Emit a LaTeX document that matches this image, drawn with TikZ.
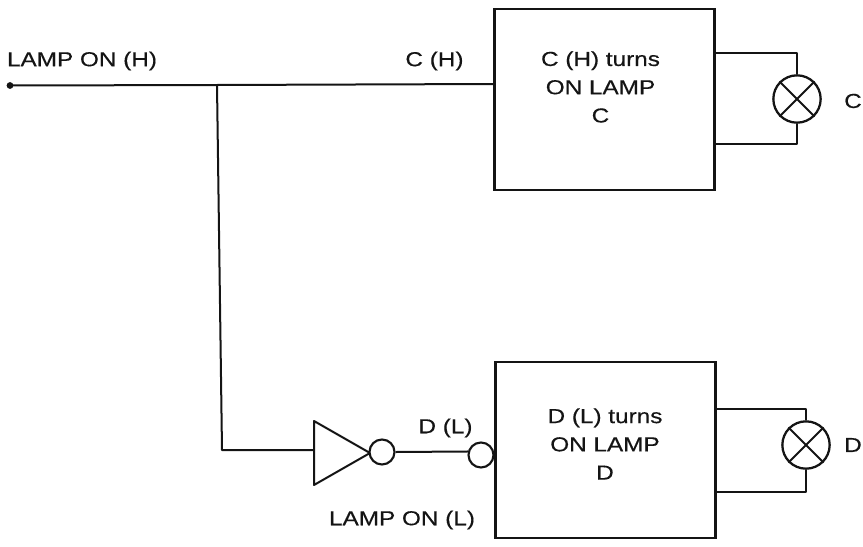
\documentclass[tikz,border=0pt]{standalone}
\usepackage{fontspec}
\setmainfont[FakeStretch=1.2,FakeBold=0.4]{Liberation Sans}
\definecolor{ink}{gray}{0.08}
\tikzset{
  ln/.style={line width=1.5pt,ink,line join=round},
  blk/.style={draw=ink,line width=1.7pt,fill=white,inner sep=0pt,minimum width=165pt},
  lab/.style={font=\fontsize{15.2}{21.2}\selectfont,text=ink,align=center,inner sep=0pt},
  bub/.style={circle,draw=ink,line width=1.6pt,fill=white,inner sep=0pt,minimum size=18.75pt},
  lamp/.style={circle,draw=ink,line width=1.7pt,inner sep=0pt,minimum size=35.5pt},
}
\begin{document}
\begin{tikzpicture}[x=0.75pt,y=-0.75pt]
\useasboundingbox (0,0) rectangle (863,546);
% boxes
\node[blk,minimum height=135.75pt] (boxc) at (604.5,99.5) {};
\node[blk,minimum height=132pt] (boxd) at (605.5,450) {};
\node[lab] (tc) at (600.5,87) {C (H) turns\\ON LAMP\\C};
\node[lab] (td) at (605,444) {D (L) turns\\ON LAMP\\D};
% input
\coordinate (st) at (10,85.5);
\fill[ink] (st) circle (3.4);
\coordinate (jn) at (217,85);
\coordinate (cin) at (boxc.west |- 0,84);
\draw[ln] (st) -- (jn) -- (cin);
% inverter
\coordinate (g1) at (314,421);
\coordinate (g2) at (314,485);
\coordinate (g3) at (370,453);
\coordinate (gin) at (314,450);
\coordinate (gb) at (222,450);
\draw[ln] (jn) -- (gb) -- (gin);
\draw[ln,fill=white] (g1) -- (g2) -- (g3) -- cycle;
\node[bub] (b1) at (382,452) {};
\node[bub] (b2) at (481,455) {};
\draw[ln] (b1.east) -- (b2.165);
% lamp C
\node[lamp] (lc) at (797,99) {};
\draw[ln] (lc.north west) -- (lc.south east) (lc.north east) -- (lc.south west);
\coordinate (c1) at (boxc.east |- 0,53);
\coordinate (c2) at (boxc.east |- 0,144);
\draw[ln] (c1) -| (lc.north);
\draw[ln] (c2) -| (lc.south);
% lamp D
\node[lamp] (ld) at (806,445) {};
\draw[ln] (ld.north west) -- (ld.south east) (ld.north east) -- (ld.south west);
\coordinate (d1) at (boxd.east |- 0,409);
\coordinate (d2) at (boxd.east |- 0,492);
\draw[ln] (d1) -| (ld.north);
\draw[ln] (d2) -| (ld.south);
% labels
\node[lab] (l1) at (82,61) {LAMP ON (H)};
\node[lab] (l2) at (434.5,61) {C (H)};
\node[lab] (l3) at (445.5,428) {D (L)};
\node[lab] (l4) at (402,520) {LAMP ON (L)};
\node[lab] (l5) at (853,101) {C};
\node[lab] (l6) at (853,445) {D};
\end{tikzpicture}
\end{document}
